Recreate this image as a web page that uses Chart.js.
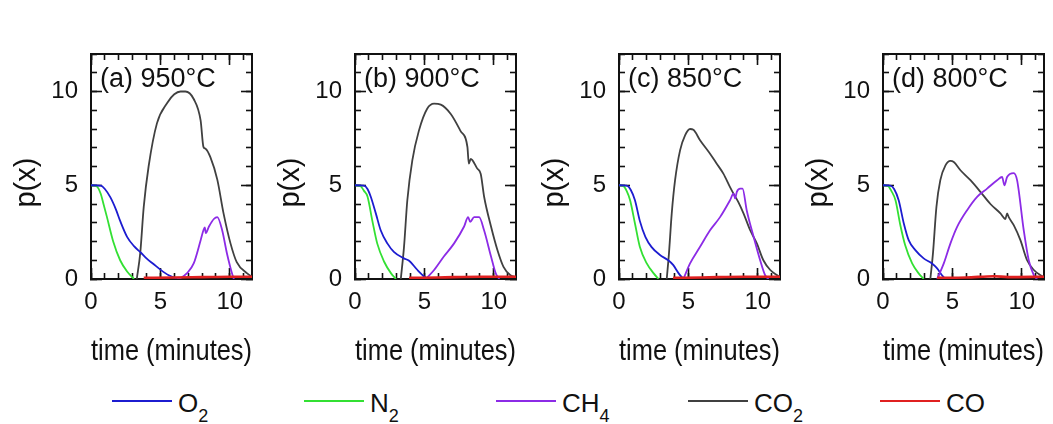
<!DOCTYPE html>
<html>
<head>
<meta charset="utf-8">
<script src="https://cdn.jsdelivr.net/npm/chart.js@4.4.1/dist/chart.umd.min.js"></script>
<style>
  html, body { margin: 0; padding: 0; background: #fff; }
  #wrap { position: relative; width: 1053px; height: 424px; overflow: hidden; font-family: "Liberation Sans", Arial, sans-serif; color: #111; }
  .panel { position: absolute; top: 0; }
  .item { position: absolute; top: 386px; height: 34px; }
  .swatch { position: absolute; left: 0; top: 14px; width: 60px; height: 2px; }
  .name { position: absolute; left: 66px; top: 0; font-size: 26px; line-height: 34px; white-space: nowrap; }
  .name sub { font-size: 18px; line-height: 0; vertical-align: -10px; }
</style>
</head>
<body>
<div id="wrap">
  <canvas id="c0" class="panel" width="264" height="370" style="left:0px"></canvas>
  <canvas id="c1" class="panel" width="264" height="370" style="left:264px"></canvas>
  <canvas id="c2" class="panel" width="264" height="370" style="left:528px"></canvas>
  <canvas id="c3" class="panel" width="264" height="370" style="left:792px"></canvas>
</div>
<script>
// axis ranges and ticks
const xMax = 11.6;
const yMax = 12;
const majorXTicks = [0, 5, 10];
const minorXTicks = [0, 1, 2, 3, 4, 5, 6, 7, 8, 9, 10, 11];
const majorYTicks = [0, 5, 10];
const minorYTicks = [0, 1, 2, 3, 4, 5, 6, 7, 8, 9, 10, 11, 12];

const panelLabels = ['(a) 950°C', '(b) 900°C', '(c) 850°C', '(d) 800°C'];
const seriesNames = ['O2', 'N2', 'CH4', 'CO2', 'CO'];
const seriesColors = ['#1c1cd0', '#33e033', '#8c2be6', '#404040', '#e02020'];

// (a) 950°C  -- [time, p(x)]
const o2_950 = [[0,5],[0.7,4.98],[1.0,4.8],[1.4,4.35],[1.8,3.7],[2.1,3.1],[2.6,2.25],[3.1,1.75],[3.6,1.4],[4.0,1.1],[4.5,0.8],[5.0,0.5],[5.6,0.2],[6.2,0.02]];
const n2_950 = [[0,5],[0.4,4.95],[0.7,4.55],[0.9,4.0],[1.15,3.3],[1.6,2.0],[2.1,1.0],[2.6,0.4],[3.1,0]];
const ch4_950 = [[6.2,0],[6.45,0.05],[6.9,0.3],[7.4,0.83],[7.9,2.07],[8.1,2.6],[8.2,2.75],[8.27,2.45],[8.5,2.8],[8.85,3.2],[9.1,3.3],[9.45,2.6],[9.8,1.35],[10.2,0.2],[10.3,0]];
const co2_950 = [[3.3,0],[3.55,1.4],[3.8,3.85],[4.15,6.0],[4.75,8.3],[5.5,9.4],[6.0,9.85],[6.45,10.0],[6.8,10.0],[7.4,9.6],[7.9,8.45],[8.1,7.05],[8.25,6.95],[8.6,6.5],[9.1,5.3],[9.55,3.5],[10.05,1.9],[10.5,0.9],[11.25,0.3],[11.6,0.12]];
const co_950 = [[3.8,0.06],[6,0.08],[8,0.1],[10,0.12],[11.6,0.12]];

// (b) 900°C
const o2_900 = [[0,5],[0.65,4.98],[0.9,4.8],[1.13,4.4],[1.5,3.5],[1.85,2.6],[2.33,1.9],[2.8,1.45],[3.53,1.1],[3.9,0.97],[4.5,0.48],[5.0,0.12],[5.2,0.02]];
const n2_900 = [[0,5],[0.4,4.95],[0.65,4.7],[0.9,4.4],[1.25,3.1],[1.6,1.9],[2.1,0.92],[2.6,0.3],[2.95,0]];
const ch4_900 = [[5.1,0],[5.7,0.48],[6.4,1.2],[7.14,1.9],[7.86,2.8],[8.15,3.3],[8.3,3.05],[8.58,3.3],[8.94,3.3],[9.3,2.6],[9.8,1.2],[10.14,0.3],[10.4,0]];
const co2_900 = [[3.3,0],[3.53,1.7],[3.77,4.2],[4.13,6.33],[4.6,7.9],[5.2,9.08],[5.7,9.35],[6.18,9.3],[6.9,8.8],[7.6,7.9],[8.1,7.04],[8.2,6.15],[8.34,6.4],[8.8,5.9],[9.06,5.6],[9.3,4.4],[9.8,2.8],[10.26,1.55],[10.7,0.65],[11.2,0.2],[11.6,0.1]];
const co_900 = [[3.9,0.06],[6,0.08],[9,0.12],[11.6,0.12]];

// (c) 850°C
const o2_850 = [[0,5],[0.55,4.98],[0.85,4.75],[1.15,4.2],[1.5,3.1],[1.9,2.25],[2.35,1.7],[2.95,1.28],[3.55,1.0],[3.9,0.75],[4.3,0.3],[4.64,0]];
const n2_850 = [[0,5],[0.3,4.97],[0.55,4.7],[0.8,4.2],[1.15,2.96],[1.5,1.72],[2.0,0.83],[2.5,0.3],[2.84,0]];
const ch4_850 = [[4.64,0],[5.12,0.83],[5.84,1.72],[6.56,2.6],[7.28,3.3],[8.0,4.2],[8.25,4.55],[8.37,4.3],[8.49,4.65],[8.73,4.82],[8.9,4.82],[9.2,3.67],[9.7,2.25],[10.17,1.0],[10.53,0.2],[10.77,0]];
const co2_850 = [[3.44,0],[3.6,1.37],[3.8,3.5],[4.04,5.27],[4.4,6.86],[4.76,7.66],[5.12,8.0],[5.36,7.96],[5.84,7.4],[6.56,6.68],[7.04,6.15],[7.52,5.62],[8.0,4.9],[8.25,4.55],[8.6,4.1],[8.97,3.5],[9.45,2.6],[9.93,1.9],[10.4,1.0],[10.9,0.48],[11.4,0.2],[11.56,0.12]];
const co_850 = [[3.9,0.06],[6,0.08],[9,0.12],[11.6,0.12]];

// (d) 800°C
const o2_800 = [[0,5],[0.53,4.98],[0.8,4.8],[1.13,4.2],[1.5,2.96],[1.85,2.07],[2.33,1.54],[2.93,1.1],[3.53,0.83],[3.9,0.57],[4.25,0.2],[4.5,0]];
const n2_800 = [[0,5],[0.35,4.97],[0.6,4.7],[0.9,4.2],[1.25,2.87],[1.6,1.8],[2.1,0.83],[2.57,0.3],[2.93,0]];
const ch4_800 = [[3.9,0],[4.38,0.83],[4.86,1.9],[5.34,2.78],[6.06,3.67],[6.78,4.38],[7.5,4.82],[8.22,5.27],[8.58,5.44],[8.75,5.0],[8.94,5.44],[9.42,5.65],[9.66,5.27],[10.14,2.6],[10.5,1.0],[10.87,0.2],[11.1,0]];
const co2_800 = [[3.41,0],[3.6,1.37],[3.85,3.85],[4.13,5.27],[4.5,6.06],[4.86,6.3],[5.1,6.24],[5.58,5.8],[6.3,5.27],[7.02,4.65],[7.74,4.0],[8.46,3.5],[8.82,3.2],[8.94,3.5],[9.06,3.3],[9.42,2.87],[9.9,2.07],[10.38,1.0],[10.87,0.48],[11.35,0.2],[11.59,0.1]];
const co_800 = [[3.9,0.06],[6,0.08],[8,0.15],[9,0.1],[11.6,0.12]];

const panels = [
    [o2_950, n2_950, ch4_950, co2_950, co_950],
    [o2_900, n2_900, ch4_900, co2_900, co_900],
    [o2_850, n2_850, ch4_850, co2_850, co_850],
    [o2_800, n2_800, ch4_800, co2_800, co_800]
];

const FONT = '"Liberation Sans", Arial, sans-serif';
const INK = '#111';
// which series is drawn on top (lower = on top)
const drawOrder = [2, 3, 1, 4, 0];

// tick-mark-only axis, ticks pointing into the plot
function tickAxis(position, values, len) {
    const vertical = position === 'left' || position === 'right';
    return {
        type: 'linear',
        position: position,
        min: 0,
        max: vertical ? yMax : xMax,
        weight: 0,
        afterBuildTicks: s => { s.ticks = values.map(v => ({ value: v })); },
        afterFit: s => { if (vertical) s.width = 0; else s.height = 0; },
        ticks: { display: false },
        border: { display: true, color: INK, width: 2 },
        grid: { drawOnChartArea: false, drawTicks: true, tickLength: -len, tickWidth: 1.6, tickColor: INK }
    };
}

const panelLabelPlugin = {
    id: 'panelLabel',
    afterDatasetsDraw(chart, args, opts) {
        const { ctx, chartArea } = chart;
        ctx.save();
        ctx.font = '27px ' + FONT;
        ctx.fillStyle = INK;
        ctx.textBaseline = 'alphabetic';
        ctx.textAlign = 'left';
        ctx.fillText(opts.text, chartArea.left + 9, chartArea.top + 33);
        ctx.restore();
    }
};

panels.forEach((series, i) => {
    const datasets = series.map((points, k) => ({
        label: seriesNames[k],
        data: points.map(([x, y]) => ({ x: x, y: y })),
        borderColor: seriesColors[k],
        borderWidth: k === 4 ? 2.6 : 1.8,
        pointRadius: 0,
        fill: false,
        cubicInterpolationMode: 'monotone',
        order: drawOrder[k]
    }));

    new Chart(document.getElementById('c' + i), {
        type: 'line',
        data: { datasets: datasets },
        plugins: [panelLabelPlugin],
        options: {
            responsive: false,
            animation: false,
            events: [],
            layout: { padding: { top: 54, right: 12, left: 0, bottom: 0 } },
            plugins: {
                legend: { display: false },
                tooltip: { enabled: false },
                panelLabel: { text: panelLabels[i] }
            },
            scales: {
                x: {
                    type: 'linear', position: 'bottom', min: 0, max: xMax, weight: 1,
                    afterBuildTicks: s => { s.ticks = majorXTicks.map(v => ({ value: v })); },
                    afterFit: s => { s.height = 91; },
                    ticks: { font: { family: FONT, size: 24 }, color: INK, padding: 9, maxRotation: 0, autoSkip: false },
                    grid: { display: false, drawTicks: false },
                    border: { display: true, color: INK, width: 2 },
                    title: { display: true, text: 'time (minutes)', font: { family: FONT, size: 30 }, color: INK, padding: 0 }
                },
                y: {
                    type: 'linear', position: 'left', min: 0, max: yMax, weight: 1,
                    afterBuildTicks: s => { s.ticks = majorYTicks.map(v => ({ value: v })); },
                    afterFit: s => { s.width = 91; },
                    ticks: { font: { family: FONT, size: 24 }, color: INK, padding: 13 },
                    grid: { display: false, drawTicks: false },
                    border: { display: true, color: INK, width: 2 },
                    title: { display: true, text: 'p(x)    ', font: { family: FONT, size: 29 }, color: INK, padding: { top: 10, bottom: 0 } }
                },
                xMinB: tickAxis('bottom', minorXTicks, 6),
                xMajB: tickAxis('bottom', majorXTicks, 11),
                xMinT: tickAxis('top', minorXTicks, 6),
                xMajT: tickAxis('top', majorXTicks, 11),
                yMinL: tickAxis('left', minorYTicks, 6),
                yMajL: tickAxis('left', majorYTicks, 11),
                yMinR: tickAxis('right', minorYTicks, 6),
                yMajR: tickAxis('right', majorYTicks, 11)
            }
        }
    });
});

// legend below the panels
const wrap = document.getElementById('wrap');
seriesNames.forEach((name, k) => {
    const item = document.createElement('div');
    item.className = 'item';
    item.style.left = (112 + 192 * k) + 'px';
    item.innerHTML = `<div class="swatch" style="background:${seriesColors[k]}"></div>` +
        `<div class="name">${name.replace(/(\d+)/g, '<sub>$1</sub>')}</div>`;
    wrap.appendChild(item);
});
</script>
</body>
</html>
